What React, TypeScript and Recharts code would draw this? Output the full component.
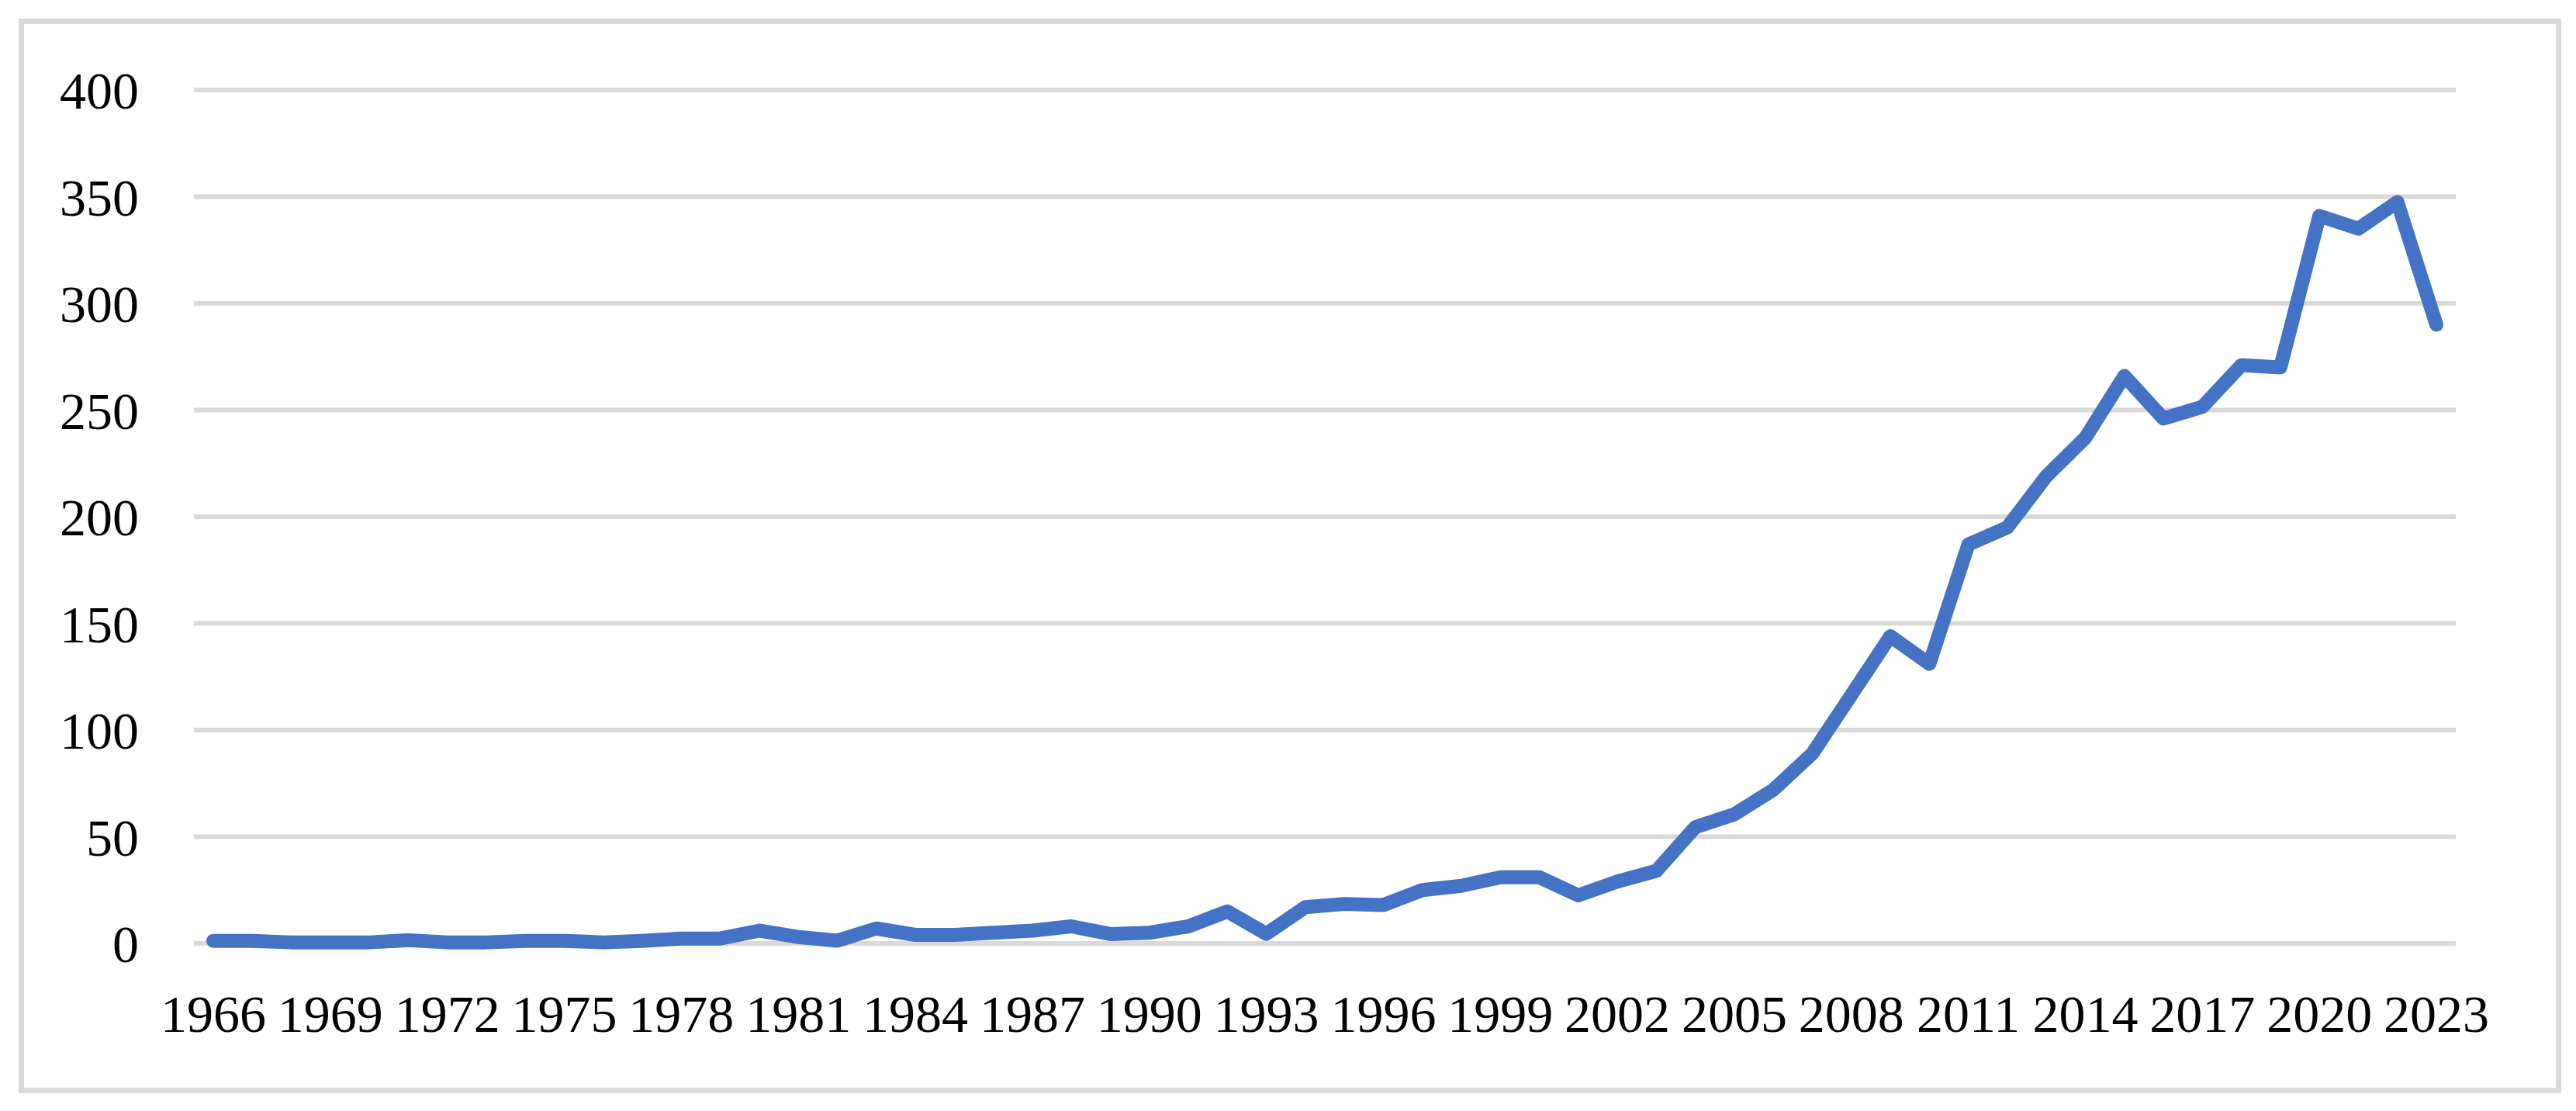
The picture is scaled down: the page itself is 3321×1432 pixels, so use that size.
import React from "react";
import { LineChart, Line, XAxis, YAxis, CartesianGrid } from "recharts";

const years: string[] = [
  "1966","1967","1968","1969","1970","1971","1972","1973","1974","1975",
  "1976","1977","1978","1979","1980","1981","1982","1983","1984","1985",
  "1986","1987","1988","1989","1990","1991","1992","1993","1994","1995",
  "1996","1997","1998","1999","2000","2001","2002","2003","2004","2005",
  "2006","2007","2008","2009","2010","2011","2012","2013","2014","2015",
  "2016","2017","2018","2019","2020","2021","2022","2023",
];

const values: number[] = [
  1.2, 1.2, 0.5, 0.5, 0.5, 1.5, 0.5, 0.5, 1.2, 1.2,
  0.5, 1.2, 2.3, 2.3, 6, 3, 1.3, 7, 4, 4,
  5, 6, 8, 4.4, 5, 8, 15, 4.5, 17, 18.5,
  18, 25, 27, 31, 31, 22.5, 29, 34, 54.5, 60.5,
  72, 89, 116.5, 144, 131, 187, 195, 219, 237, 266,
  246, 251.5, 271, 270, 341, 335, 347.5, 290,
];

const yTicks: number[] = [0, 50, 100, 150, 200, 250, 300, 350, 400];

const data = years.map((y, i) => ({ year: y, value: values[i] }));

const FONT = "'Palatino Linotype', 'Book Antiqua', Palatino, 'Liberation Serif', serif";

export default function App() {
  return (
    <div style={{ position: "relative", width: 3313, height: 1424 }}>
      <div
        style={{
          position: "absolute",
          left: 16,
          top: 16,
          width: 3278,
          height: 1385,
          border: "7px solid #d9d9d9",
          boxSizing: "border-box",
        }}
      />
      <div style={{ position: "absolute", left: 0, top: 0 }}>
        <LineChart
          width={3313}
          height={1424}
          data={data}
          margin={{ top: 108, right: 155, bottom: 0, left: 0 }}
        >
          <CartesianGrid vertical={false} stroke="#d9d9d9" strokeWidth={6} />
          <XAxis
            dataKey="year"
            interval={2}
            axisLine={false}
            tickLine={false}
            tickSize={0}
            tickMargin={66}
            padding={{ left: 25, right: 25 }}
            tick={{ fill: "#000", fontSize: 68, fontFamily: FONT }}
            height={216}
          />
          <YAxis
            domain={[0, 400]}
            ticks={yTicks}
            axisLine={false}
            tickLine={false}
            tickSize={0}
            tickMargin={71}
            width={242}
            tick={{ fill: "#000", fontSize: 68, fontFamily: FONT }}
          />
          <Line
            type="linear"
            dataKey="value"
            stroke="#4472C4"
            strokeWidth={18}
            strokeLinecap="round"
            strokeLinejoin="round"
            dot={false}
            activeDot={false}
            isAnimationActive={false}
          />
        </LineChart>
      </div>
    </div>
  );
}
